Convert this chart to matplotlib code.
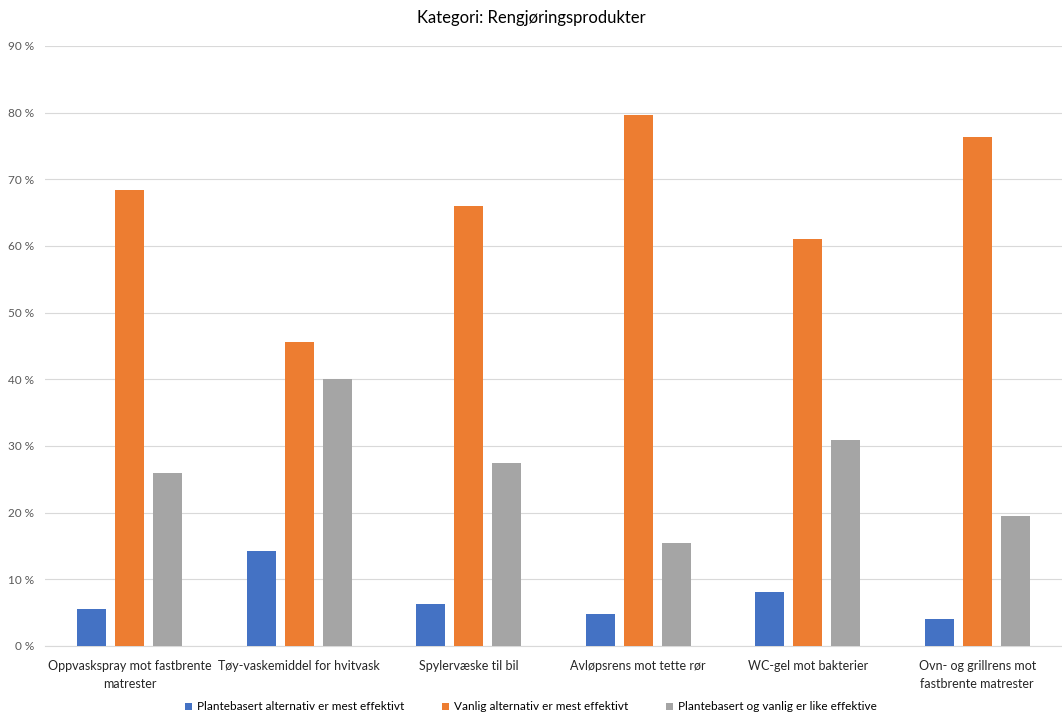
import numpy as np
import matplotlib.pyplot as plt

categories = ["Oppvaskspray mot fastbrente\nmatrester", "Tøy-vaskemiddel for hvitvask",
              "Spylervæske til bil", "Avløpsrens mot tette rør", "WC-gel mot bakterier",
              "Ovn- og grillrens mot\nfastbrente matrester"]
plante = [5.5, 14.2, 6.3, 4.8, 8.1, 4.0]
vanlig = [68.4, 45.6, 66.0, 79.6, 61.0, 76.3]
like = [25.9, 40.1, 27.5, 15.4, 30.9, 19.5]
series_names = ["Plantebasert alternativ er mest effektivt",
                "Vanlig alternativ er mest effektivt",
                "Plantebasert og vanlig er like effektive"]

plt.rcParams['font.family'] = ['Lato', 'DejaVu Sans']

fig = plt.figure(figsize=(10.62, 7.15), dpi=100)
ax = fig.add_axes([45 / 1062, 1 - 646 / 715, 1 - 45 / 1062, 600 / 715])

x = np.arange(len(categories))
w = 0.17
off = 0.224
colors = ["#4472C4", "#ED7D31", "#A5A5A5"]
for i, (vals, name) in enumerate(zip([plante, vanlig, like], series_names)):
    ax.bar(x + (i - 1) * off, vals, w, color=colors[i], label=name, zorder=3)

ax.set_xlim(-0.5, len(categories) - 0.5)
ax.set_ylim(0, 90)
ax.set_yticks(range(0, 91, 10))
ax.set_yticklabels([f"{v} %" for v in range(0, 91, 10)], color="#595959", fontsize=8.5)
ax.set_xticks(x)
ax.set_xticklabels(categories, fontsize=9, color="#262626", linespacing=1.6)
ax.tick_params(axis='both', length=0)
ax.tick_params(axis='y', pad=8)
ax.tick_params(axis='x', pad=10)
ax.grid(axis='y', color="#D9D9D9", linewidth=0.8, zorder=0)
for s in ["top", "right", "left"]:
    ax.spines[s].set_visible(False)
ax.spines["bottom"].set_color("#D9D9D9")

fig.text(0.5, 1 - 18 / 715, "Kategori: Rengjøringsprodukter", ha="center", va="center",
         fontsize=12, color="#000000")
fig.legend(loc="center", bbox_to_anchor=(0.5, 1 - 707 / 715), ncol=3, frameon=False,
           fontsize=8.5, handlelength=0.6, handleheight=0.6, columnspacing=3.2, handletextpad=0.4)

fig.savefig("out.png", dpi=100)
